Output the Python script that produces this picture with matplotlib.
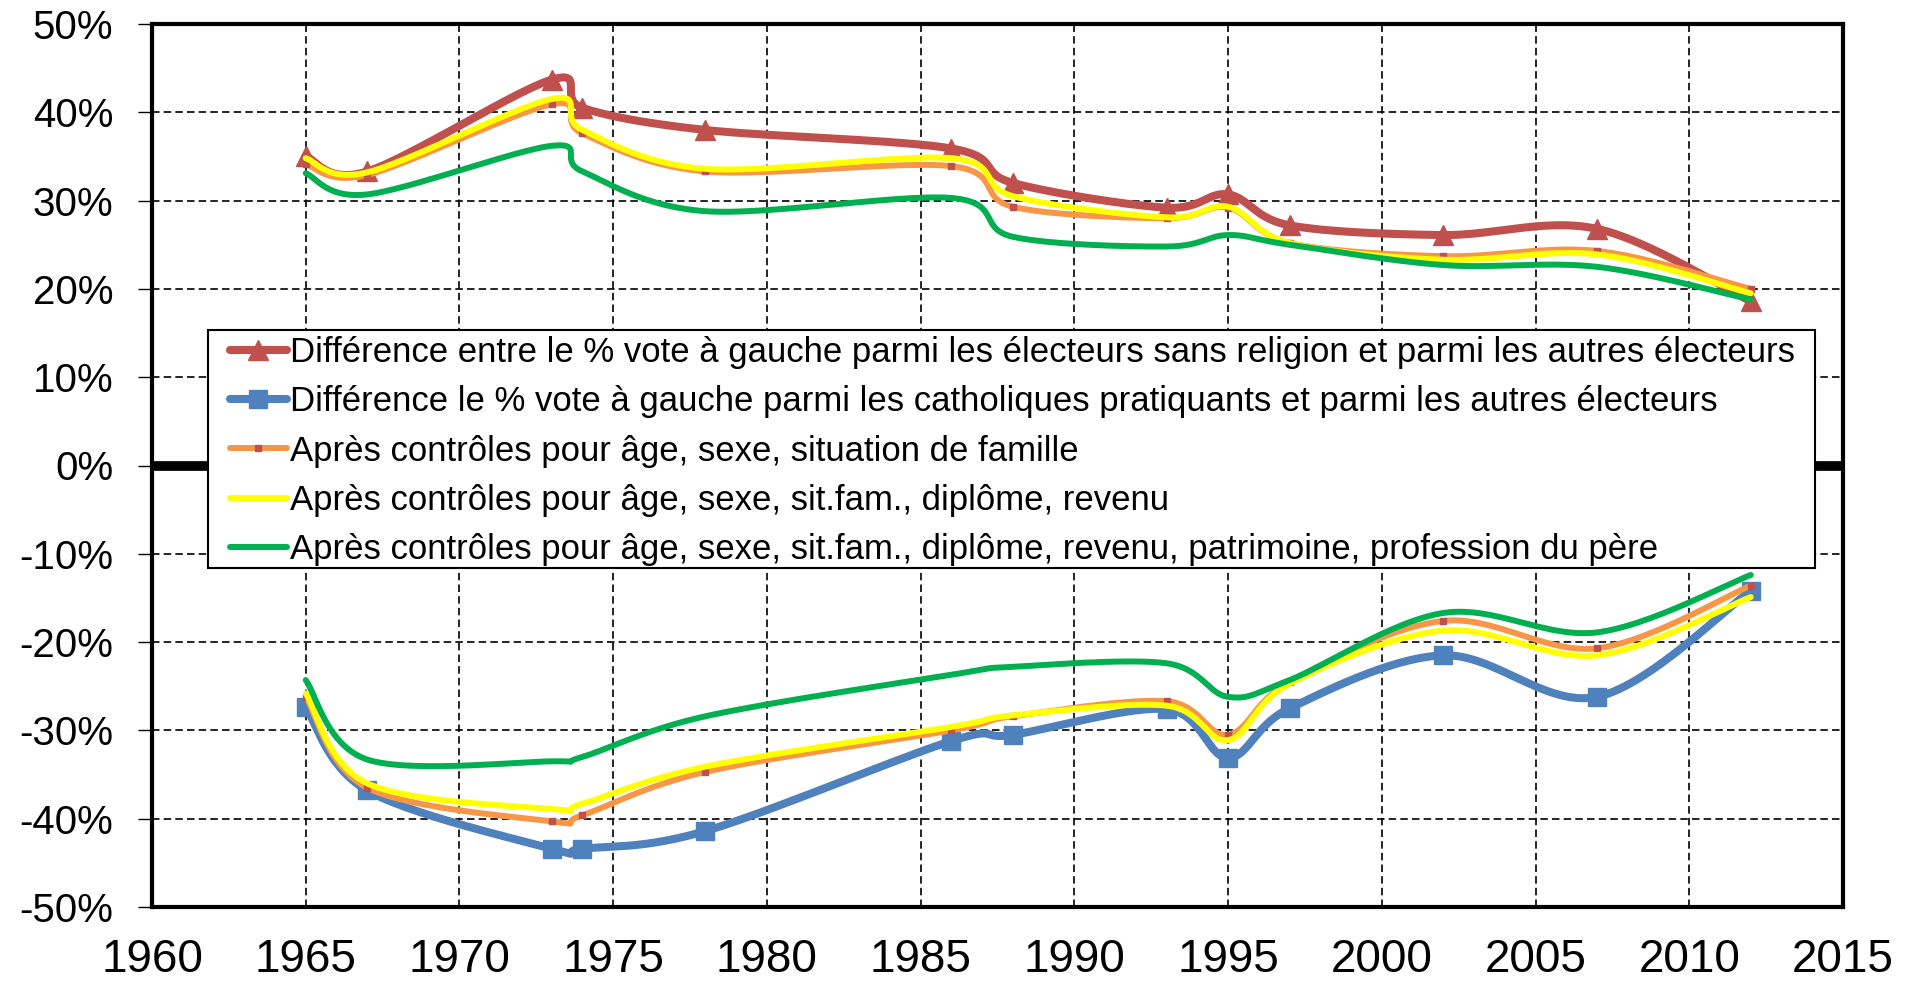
import numpy as np
import matplotlib
matplotlib.use("Agg")
import matplotlib.pyplot as plt
from matplotlib.patches import Rectangle
from matplotlib.ticker import FuncFormatter

plt.rcParams['font.family'] = ['Liberation Sans', 'DejaVu Sans']

years = [1965, 1967, 1973, 1974, 1978, 1986, 1988, 1993, 1995, 1997, 2002, 2007, 2012]

# differences brutes (en points de %)
sans_religion = [35.0, 33.3, 43.7, 40.5, 38.0, 35.9, 32.0, 29.2, 30.7, 27.2, 26.1, 26.8, 18.6]
catho_prat = [-27.4, -36.8, -43.4, -43.4, -41.4, -31.2, -30.5, -27.6, -33.1, -27.5, -21.5, -26.2, -14.2]

# après contrôles : sans religion (haut) / catholiques pratiquants (bas)
ctrl1_haut = [34.1, 32.9, 40.9, 37.6, 33.3, 33.9, 29.3, 28.0, 29.2, 25.2, 23.7, 24.3, 20.0]
ctrl1_bas = [-26.2, -36.5, -40.3, -39.6, -34.7, -30.0, -28.4, -26.7, -30.5, -24.5, -17.6, -20.7, -13.6]
ctrl2_haut = [34.8, 33.2, 41.5, 38.0, 33.6, 34.8, 30.5, 28.1, 29.3, 25.2, 23.3, 23.9, 19.5]
ctrl2_bas = [-25.8, -36.0, -38.9, -38.3, -34.1, -29.6, -28.3, -27.2, -31.1, -24.7, -18.7, -21.5, -14.9]
ctrl3_haut = [33.1, 30.7, 36.2, 33.3, 28.8, 30.3, 25.9, 24.8, 26.1, 25.0, 22.7, 22.5, 18.8]
ctrl3_bas = [-24.3, -33.3, -33.5, -33.0, -28.4, -23.7, -22.8, -22.4, -26.2, -24.3, -16.7, -18.9, -12.4]

labels = [
    "Différence entre le % vote à gauche parmi les électeurs sans religion et parmi les autres électeurs",
    "Différence le % vote à gauche parmi les catholiques pratiquants et parmi les autres électeurs",
    "Après contrôles pour âge, sexe, situation de famille",
    "Après contrôles pour âge, sexe, sit.fam., diplôme, revenu",
    "Après contrôles pour âge, sexe, sit.fam., diplôme, revenu, patrimoine, profession du père",
]


def smooth(xs, ys, n=30):
    # lissage façon Excel (Bezier, type Catmull-Rom)
    p = np.column_stack([xs, ys]).astype(float)
    p = np.vstack([p[0], p, p[-1]])
    out = []
    t = np.linspace(0, 1, n)[:, None]
    for i in range(1, len(p) - 2):
        p0, p3 = p[i], p[i + 1]
        c1 = p0 + (p[i + 1] - p[i - 1]) / 6
        c2 = p3 - (p[i + 2] - p[i]) / 6
        seg = (1 - t) ** 3 * p0 + 3 * (1 - t) ** 2 * t * c1 + 3 * (1 - t) * t ** 2 * c2 + t ** 3 * p3
        out.append(seg if i == 1 else seg[1:])
    out = np.vstack(out)
    return out[:, 0], out[:, 1]


W, H = 1917, 984
fig = plt.figure(figsize=(W / 100, H / 100), dpi=100)
ax = fig.add_axes([152 / W, 1 - 907 / H, 1691 / W, 883 / H])

ax.axhline(0, color='black', lw=7, zorder=1)

red, blue, orange, yellow, green = '#C0504D', '#4F81BD', '#F79646', '#FFFF00', '#00B050'

handles = []
x, y = smooth(years, sans_religion)
ax.plot(x, y, color=red, lw=5.8, solid_capstyle='round', zorder=3)
ax.plot(years, sans_religion, '^', color=red, ms=15, zorder=3)
handles.append(plt.Line2D([], [], color=red, lw=5.8, marker='^', ms=15, solid_capstyle='round'))

x, y = smooth(years, catho_prat)
ax.plot(x, y, color=blue, lw=5.8, solid_capstyle='round', zorder=3)
ax.plot(years, catho_prat, 's', color=blue, ms=13, zorder=3)
handles.append(plt.Line2D([], [], color=blue, lw=5.8, marker='s', ms=13, solid_capstyle='round'))

for haut, bas, col in [(ctrl1_haut, ctrl1_bas, orange), (ctrl2_haut, ctrl2_bas, yellow), (ctrl3_haut, ctrl3_bas, green)]:
    for serie in (haut, bas):
        x, y = smooth(years, serie)
        ax.plot(x, y, color=col, lw=4.3, solid_capstyle='round', zorder=4)
        if col == orange:
            ax.plot(years, serie, 's', color=red, ms=4, zorder=4)
    if col == orange:
        handles.append(plt.Line2D([], [], color=col, lw=4.3, marker='s', ms=4, mfc=red, mec=red, solid_capstyle='round'))
    else:
        handles.append(plt.Line2D([], [], color=col, lw=4.3, solid_capstyle='round'))

ax.set_xlim(1960, 2015)
ax.set_ylim(-50, 50)
ax.set_xticks(range(1960, 2016, 5))
ax.set_yticks(range(-50, 51, 10))
ax.yaxis.set_major_formatter(FuncFormatter(lambda v, p: f"{int(v)}%"))
ax.grid(True, color='black', lw=1.2, linestyle=(0, (4.5, 2.5)), zorder=0)
ax.tick_params(axis='y', labelsize=29, length=10, width=1, direction='out', pad=18)
ax.tick_params(axis='x', labelsize=33, length=0, pad=22)
for s in ax.spines.values():
    s.set_linewidth(3)
    s.set_zorder(5)

# cadre de la légende (dessiné à part pour avoir des marges différentes)
box = Rectangle((208 / W, 1 - 568 / H), (1815 - 208) / W, (568 - 330) / H, transform=fig.transFigure,
                facecolor='white', edgecolor='black', lw=1.5, zorder=5.5)
ax.add_patch(box)
box.set_clip_on(False)

leg = ax.legend(handles, labels, loc='upper left', bbox_to_anchor=(230 / W, 1 - 336 / H),
                bbox_transform=fig.transFigure, borderaxespad=0, borderpad=0, fontsize=25,
                frameon=False, handlelength=1.64, handletextpad=0.1, labelspacing=0.47)
leg.set_zorder(6)

fig.savefig('out.png', dpi=100)
